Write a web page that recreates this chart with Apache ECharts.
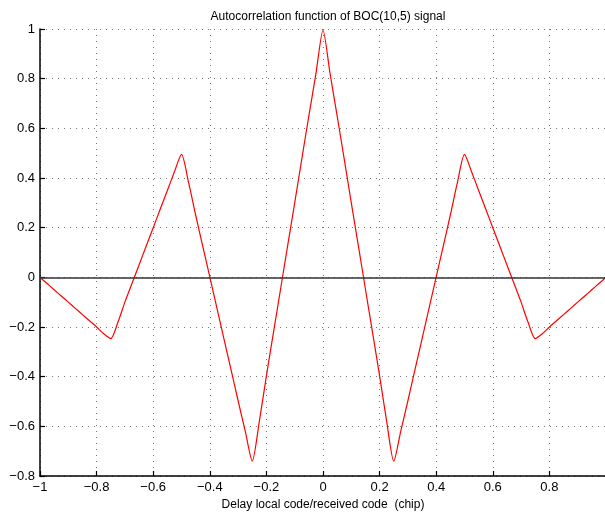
<!DOCTYPE html>
<html>
<head>
<meta charset="utf-8">
<script src="https://cdn.jsdelivr.net/npm/echarts@6/dist/echarts.min.js"></script>
<style>html,body{margin:0;padding:0;background:#fff}#c{width:605px;height:514px}</style>
</head>
<body>
<div id="c"></div>
<script>
const titleText = 'Autocorrelation function of BOC(10,5) signal';
const xName = 'Delay local code/received code  (chip)';
const xTicks = [-1, -0.8, -0.6, -0.4, -0.2, 0, 0.2, 0.4, 0.6, 0.8, 1];
const yTicks = [-0.8, -0.6, -0.4, -0.2, 0, 0.2, 0.4, 0.6, 0.8, 1];
const delay = [
 -1.000,-0.975,-0.950,-0.925,-0.900,-0.875,-0.850,-0.825,-0.800,-0.775,
 -0.750,-0.725,-0.700,-0.675,-0.650,-0.625,-0.600,-0.575,-0.550,-0.525,
 -0.500,-0.475,-0.450,-0.425,-0.400,-0.375,-0.350,-0.325,-0.300,-0.275,
 -0.250,-0.225,-0.200,-0.175,-0.150,-0.125,-0.100,-0.075,-0.050,-0.025,
  0.000, 0.025, 0.050, 0.075, 0.100, 0.125, 0.150, 0.175, 0.200, 0.225,
  0.250, 0.275, 0.300, 0.325, 0.350, 0.375, 0.400, 0.425, 0.450, 0.475,
  0.500, 0.525, 0.550, 0.575, 0.600, 0.625, 0.650, 0.675, 0.700, 0.725,
  0.750, 0.775, 0.800, 0.825, 0.850, 0.875, 0.900, 0.925, 0.950, 0.975,
  1.000
];
const acf = [
  0.000,-0.025,-0.050,-0.075,-0.100,-0.125,-0.150,-0.175,-0.200,-0.227,
 -0.247,-0.182,-0.100,-0.025, 0.050, 0.125, 0.200, 0.275, 0.350, 0.425,
  0.495, 0.382, 0.251, 0.126, 0.002,-0.123,-0.248,-0.372,-0.497,-0.618,
 -0.740,-0.580,-0.397,-0.222,-0.048, 0.127, 0.300, 0.476, 0.650, 0.820,
  0.995, 0.820, 0.650, 0.476, 0.300, 0.127,-0.048,-0.222,-0.397,-0.580,
 -0.740,-0.618,-0.497,-0.372,-0.248,-0.123, 0.002, 0.126, 0.251, 0.382,
  0.495, 0.425, 0.350, 0.275, 0.200, 0.125, 0.050,-0.025,-0.100,-0.182,
 -0.247,-0.227,-0.200,-0.175,-0.150,-0.125,-0.100,-0.075,-0.050,-0.025,
  0.000
];

const fmt = v => {
  const s = String(Math.round(v * 10) / 10);
  return s.replace('-', '\u2212');
};
const font = 'Liberation Sans, Arial, Helvetica, sans-serif';
const chart = echarts.init(document.getElementById('c'), null, {renderer: 'canvas'});
chart.setOption({
  backgroundColor: '#fff',
  animation: false,
  title: {
    text: titleText, left: 323, top: 6, textAlign: 'center',
    textStyle: {fontSize: 12, fontWeight: 'normal', color: '#000', fontFamily: font}
  },
  grid: {left: 40, top: 29, width: 566, height: 447, containLabel: false, outerBoundsMode: 'none'},
  xAxis: {
    type: 'value', min: xTicks[0], max: xTicks[xTicks.length - 1], interval: 0.2,
    name: xName, nameLocation: 'middle', nameGap: 21,
    nameTextStyle: {fontSize: 12, color: '#000', fontFamily: font},
    axisLine: {show: true, onZero: false, lineStyle: {color: '#000', width: 1.5}},
    axisTick: {show: true, inside: true, length: 5, lineStyle: {color: '#000', width: 1.2}},
    axisLabel: {fontSize: 13, color: '#000', margin: 5, fontFamily: font,
      formatter: v => (Math.abs(v - 1) < 1e-9 ? '' : fmt(v))},
    splitLine: {show: true, lineStyle: {color: '#777', type: [1, 5], width: 1}}
  },
  yAxis: {
    type: 'value', min: yTicks[0], max: yTicks[yTicks.length - 1], interval: 0.2,
    axisLine: {show: true, onZero: false, lineStyle: {color: '#000', width: 1.5}},
    axisTick: {show: true, inside: true, length: 5, lineStyle: {color: '#000', width: 1.2}},
    axisLabel: {fontSize: 13, color: '#000', margin: 5, fontFamily: font, formatter: fmt},
    splitLine: {show: true, lineStyle: {color: '#777', type: [1, 5], width: 1}}
  },
  series: [{
    type: 'line',
    data: delay.map((d, i) => [d, acf[i]]),
    showSymbol: false,
    smooth: 0.25,
    lineStyle: {color: '#ff0000', width: 1.2},
    markLine: {
      silent: true, symbol: 'none', label: {show: false},
      lineStyle: {color: '#333', type: 'solid', width: 1.5},
      data: [{yAxis: 0}]
    },
    z: 3
  }]
});
</script>
</body>
</html>
